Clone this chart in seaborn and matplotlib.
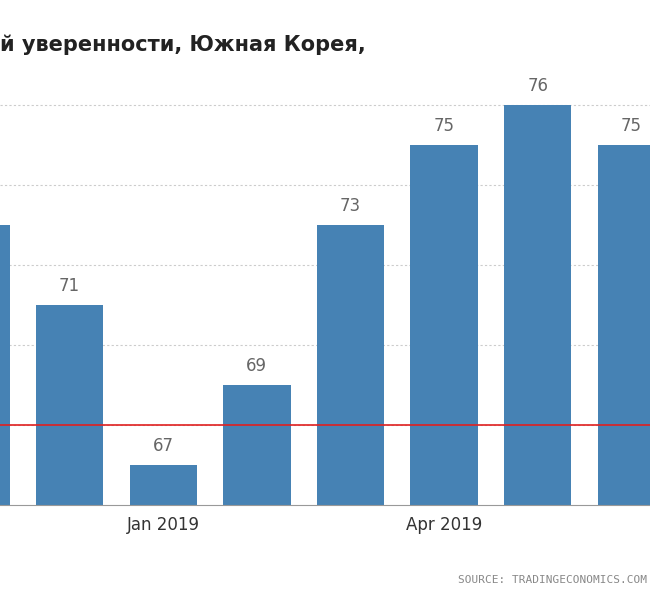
import matplotlib
matplotlib.use("Agg")
import matplotlib.pyplot as plt
import seaborn as sns
import pandas as pd

# Data
months = ["Nov 2018", "Dec 2018", "Jan 2019", "Feb 2019", "Mar 2019", "Apr 2019", "May 2019", "Jun 2019"]
values = [73, 71, 67, 69, 73, 75, 76, 75]
tick_pos = [2, 5]
tick_labels = ["Jan 2019", "Apr 2019"]
reference_level = 68

df = pd.DataFrame({"month": months, "value": values})

fig = plt.figure(figsize=(6.5, 6.0), dpi=100)
ax = fig.add_axes([0.0, 0.158, 1.0, 0.747])

sns.barplot(data=df, x="month", y="value", color="#4682b4", width=0.72,
            saturation=1, ax=ax, zorder=2)

ax.axhline(reference_level, color="#e02020", linewidth=1.2, zorder=3)

# first bar is cut by the frame, its label is not shown
for i, v in enumerate(values):
    if i == 0:
        continue
    ax.text(i, v + 0.25, str(v), ha="center", va="bottom", fontsize=12, color="#666666")

ax.set_yticks([68, 70, 72, 74, 76])
ax.yaxis.grid(True, linestyle=(0, (2, 2)), color="#cccccc", linewidth=0.8, zorder=0)
ax.tick_params(axis="y", length=0, labelleft=False)
ax.set_xticks(tick_pos)
ax.set_xticklabels(tick_labels, fontsize=12, color="#333333")
ax.tick_params(axis="x", length=0, pad=8)
ax.set_xlabel("")
ax.set_ylabel("")
for s in ["top", "left", "right"]:
    ax.spines[s].set_visible(False)
ax.spines["bottom"].set_color("#999999")
ax.set_xlim(0.256, 7.2)
ax.set_ylim(66, 77.2)

fig.text(0.0, 0.925, "й уверенности, Южная Корея,", fontsize=15, fontweight="bold",
         color="#222222", va="center", ha="left")
fig.text(0.995, 0.033, "SOURCE: TRADINGECONOMICS.COM", fontsize=8, color="#888888",
         family="DejaVu Sans Mono", va="center", ha="right")

fig.savefig("out.png", dpi=100)
